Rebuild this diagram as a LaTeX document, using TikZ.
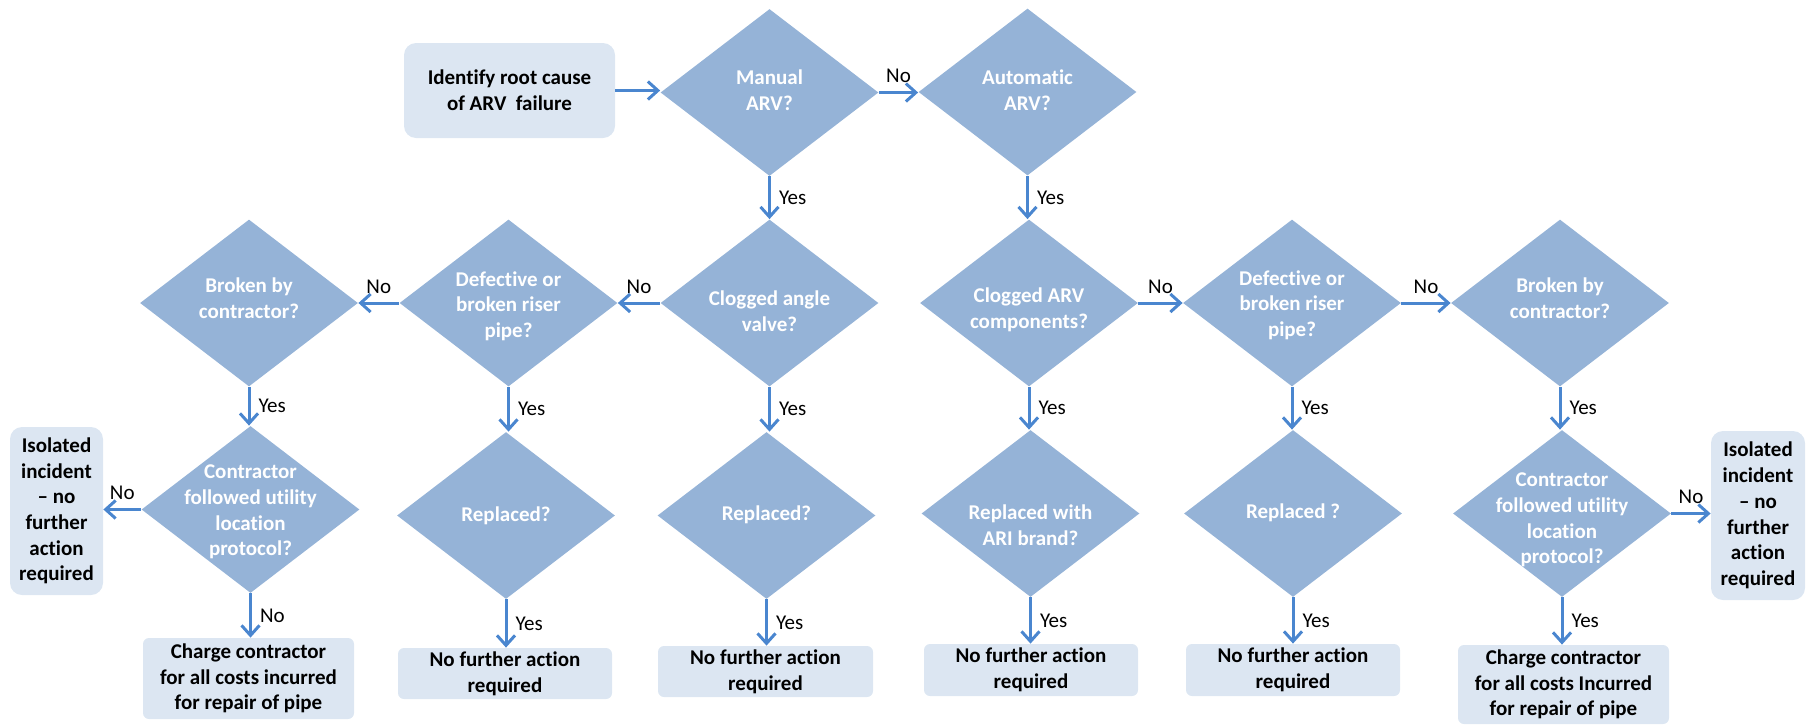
\documentclass[tikz,border=0pt]{standalone}
\usepackage{fontspec}
\setmainfont{Carlito}[Ligatures={NoCommon}]
\usetikzlibrary{shapes.geometric,arrows.meta}
\definecolor{dfill}{HTML}{95B3D7}
\definecolor{bfill}{HTML}{DCE6F2}
\definecolor{arr}{HTML}{4A86CF}
\begin{document}
\begin{tikzpicture}[x=0.5pt,y=-0.5pt,
  dia/.style={diamond, fill=dfill, minimum width=109pt, minimum height=83.5pt, inner sep=0pt},
  dtext/.style={text=white, font=\bfseries\fontsize{10.5}{12.85}\selectfont, align=center, inner sep=0pt},
  box/.style={fill=bfill, rounded corners=6pt, font=\bfseries\fontsize{10.5}{12.85}\selectfont, align=center, inner sep=0pt},
  fbox/.style={box, rounded corners=3pt},
  arrow/.style={draw=arr, line width=1.5pt, -{Straight Barb[length=5pt,width=9pt]}},
  lab/.style={font=\fontsize{10.5}{12}\selectfont, inner sep=4pt}
]
\useasboundingbox (0,0) rectangle (1811,724);

% boxes
\node[box, minimum width=105.5pt, minimum height=47.5pt] (start) at (509.5,90.5) {Identify root cause\\of ARV\ \ failure};
\node[box, minimum width=46.5pt, minimum height=84pt] (isoL) at (56.5,511) {Isolated\\incident\\– no\\further\\action\\required};
\node[box, minimum width=47pt, minimum height=84.5pt] (isoR) at (1758,515.5) {Isolated\\incident\\– no\\further\\action\\required};
\node[fbox, minimum width=105.5pt, minimum height=40.5pt] (chL) at (248.5,678.5) {Charge contractor\\for all costs incurred\\for repair of pipe};
\node[fbox, minimum width=105.5pt, minimum height=39.5pt] (chR) at (1563.5,684.5) {Charge contractor\\for all costs Incurred\\for repair of pipe};
\node[fbox, minimum width=107pt, minimum height=25.5pt] (nf1) at (505,673.5) {No further action\\required};
\node[fbox, minimum width=107.5pt, minimum height=25.5pt] (nf2) at (765.5,671.5) {No further action\\required};
\node[fbox, minimum width=107pt, minimum height=26pt] (nf3) at (1031,670) {No further action\\required};
\node[fbox, minimum width=107pt, minimum height=26pt] (nf4) at (1293,670) {No further action\\required};

% diamonds row 1
\node[dia] (man) at (769.5,92.5) {};
\node[dtext] (mant) at (769.5,90) {Manual\\ARV?};
\node[dia] (aut) at (1027.5,92) {};
\node[dtext] (autt) at (1027.5,90) {Automatic\\ARV?};

% diamonds row 2
\node[dia] (brL) at (249,303) {};
\node[dtext] (brLt) at (249,298) {Broken by\\contractor?};
\node[dia] (dfL) at (508.5,303) {};
\node[dtext] (dfLt) at (508.5,306) {Defective or\\broken riser\\pipe?};
\node[dia] (cav) at (769.5,303) {};
\node[dtext] (cavt) at (769.5,311) {Clogged angle\\valve?};
\node[dia] (carv) at (1029,303) {};
\node[dtext] (carvt) at (1029,310) {Clogged ARV\\components?};
\node[dia] (dfR) at (1292,303) {};
\node[dtext] (dfRt) at (1292,305) {Defective or\\broken riser\\pipe?};
\node[dia] (brR) at (1560,303) {};
\node[dtext] (brRt) at (1560,298) {Broken by\\contractor?};

% diamonds row 3
\node[dia] (coL) at (250.5,509.5) {};
\node[dtext] (coLt) at (250.5,512) {Contractor\\followed utility\\location\\protocol?};
\node[dia] (re1) at (506,515.5) {};
\node[dtext] (re1t) at (506,516) {Replaced?};
\node[dia] (re2) at (766.5,515.5) {};
\node[dtext] (re2t) at (766.5,515) {Replaced?};
\node[dia] (re3) at (1030.5,513.5) {};
\node[dtext] (re3t) at (1030.5,525) {Replaced with\\ARI brand?};
\node[dia] (re4) at (1293,513.5) {};
\node[dtext] (re4t) at (1293,513) {Replaced ?};
\node[dia] (coR) at (1562,513.5) {};
\node[dtext] (coRt) at (1562,520) {Contractor\\followed utility\\location\\protocol?};

% connectors
\draw[arrow] (start.east) -- (start.east -| man.west);
\draw[arrow] (man.east) -- (man.east -| aut.west) node[lab, midway, above] {No};
\draw[arrow] (man.south) -- (man.south |- cav.north) node[lab, midway, right] {Yes};
\draw[arrow] (aut.south) -- (aut.south |- carv.north) node[lab, midway, right] {Yes};

\draw[arrow] (cav.west) -- (cav.west -| dfL.east) node[lab, midway, above] {No};
\draw[arrow] (dfL.west) -- (dfL.west -| brL.east) node[lab, midway, above] {No};
\draw[arrow] (carv.east) -- (carv.east -| dfR.west) node[lab, midway, above] {No};
\draw[arrow] (dfR.east) -- (dfR.east -| brR.west) node[lab, midway, above] {No};

\draw[arrow] (brL.south) -- (brL.south |- coL.north) node[lab, midway, right] {Yes};
\draw[arrow] (dfL.south) -- (dfL.south |- re1.north) node[lab, midway, right] {Yes};
\draw[arrow] (cav.south) -- (cav.south |- re2.north) node[lab, midway, right] {Yes};
\draw[arrow] (carv.south) -- (carv.south |- re3.north) node[lab, midway, right] {Yes};
\draw[arrow] (dfR.south) -- (dfR.south |- re4.north) node[lab, midway, right] {Yes};
\draw[arrow] (brR.south) -- (brR.south |- coR.north) node[lab, midway, right] {Yes};

\draw[arrow] (coL.west) -- (coL.west -| isoL.east) node[lab, midway, above] {No};
\draw[arrow] (coR.east) -- (coR.east -| isoR.west) node[lab, midway, above] {No};

\draw[arrow] (coL.south) -- (coL.south |- chL.north) node[lab, midway, right] {No};
\draw[arrow] (re1.south) -- (re1.south |- nf1.north) node[lab, midway, right] {Yes};
\draw[arrow] (re2.south) -- (re2.south |- nf2.north) node[lab, midway, right] {Yes};
\draw[arrow] (re3.south) -- (re3.south |- nf3.north) node[lab, midway, right] {Yes};
\draw[arrow] (re4.south) -- (re4.south |- nf4.north) node[lab, midway, right] {Yes};
\draw[arrow] (coR.south) -- (coR.south |- chR.north) node[lab, midway, right] {Yes};
\end{tikzpicture}
\end{document}
